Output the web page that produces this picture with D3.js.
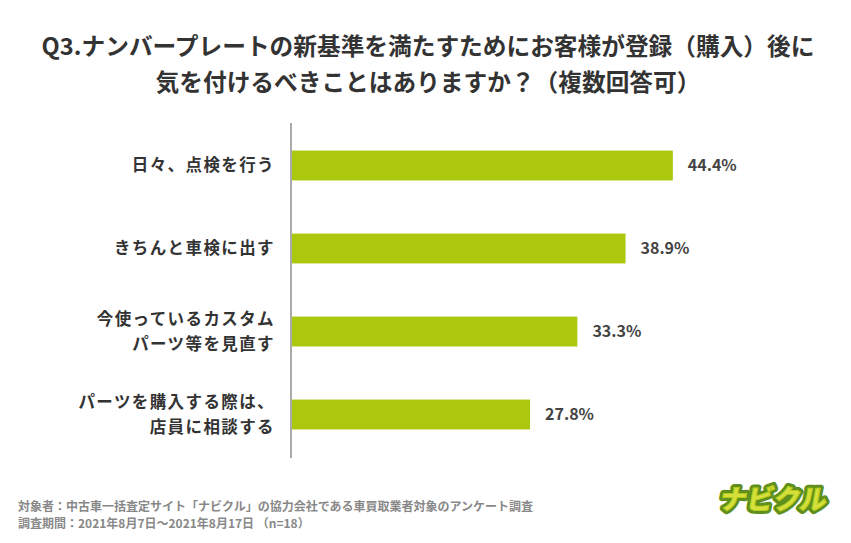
<!DOCTYPE html>
<html><head><meta charset="utf-8">
<script src="https://cdn.jsdelivr.net/npm/d3@7"></script>
<style>
body{margin:0;background:#fff;}
svg{display:block;font-family:"Noto Sans CJK JP","Noto Sans",sans-serif;}
</style></head>
<body><svg id="c" width="851" height="543"></svg>
<script>
const titleLines = ["Q3.ナンバープレートの新基準を満たすためにお客様が登録（購入）後に","気を付けるべきことはありますか？（複数回答可）"];
const categories = ["日々、点検を行う","きちんと車検に出す","今使っているカスタム\nパーツ等を見直す","パーツを購入する際は、\n店員に相談する"];
const values = [44.4, 38.9, 33.3, 27.8];
const footnotes = ["対象者：中古車一括査定サイト「ナビクル」の協力会社である車買取業者対象のアンケート調査","調査期間：2021年8月7日〜2021年8月17日 （n=18）"];
const logoText = "ナビクル";

const svg = d3.select("#c");
const x0 = 291;
const x = d3.scaleLinear().domain([0, 50]).range([x0, x0 + 430]);
const y = d3.scaleBand().domain(categories).range([124, 456]).paddingInner(0.64).paddingOuter(0.32);

svg.append("g").selectAll("text").data(titleLines).join("text")
  .attr("x", 428).attr("y", (d,i)=>55+i*36).attr("text-anchor","middle")
  .attr("font-size",23.7).attr("font-weight",700).attr("fill","#333").text(d=>d);

svg.append("g").selectAll("rect").data(values).join("rect")
  .attr("x", x(0)).attr("y",(d,i)=>y(categories[i]))
  .attr("width", d=>x(d)-x(0)).attr("height", y.bandwidth())
  .attr("fill","#abc70e");

svg.append("line").attr("x1",x0).attr("x2",x0).attr("y1",123).attr("y2",458)
  .attr("stroke","#aaa").attr("stroke-width",2);

svg.append("g").selectAll("text").data(values).join("text")
  .attr("x", d=>x(d)+15).attr("y",(d,i)=>y(categories[i])+y.bandwidth()/2)
  .attr("dy","0.36em").attr("font-size",16).attr("font-weight",700).attr("fill","#444")
  .text(d=>d.toFixed(1)+"%");

const lab = svg.append("g").selectAll("text").data(categories).join("text")
  .attr("text-anchor","end").attr("font-size",16.5).attr("font-weight",700).attr("fill","#333")
  .attr("letter-spacing","1.4px");
lab.each(function(d){
  const lines = d.split("\n");
  const cy = y(d)+y.bandwidth()/2;
  const t = d3.select(this);
  lines.forEach((l,i)=>{
    t.append("tspan").attr("x",275).attr("y", cy + (i-(lines.length-1)/2)*25).attr("dy","0.36em").text(l);
  });
});

svg.append("g").selectAll("text").data(footnotes).join("text")
  .attr("x",18).attr("y",(d,i)=>511+i*17).attr("font-size",12).attr("font-weight",700).attr("fill","#888").text(d=>d);

const logo = svg.append("g").attr("transform","translate(772,509) skewX(-10)");
logo.append("text").attr("text-anchor","middle").attr("font-size",27).attr("font-weight",900)
  .attr("fill","none").attr("stroke","#5f8f1c").attr("stroke-width",7).attr("stroke-linejoin","round").text(logoText);
logo.append("text").attr("text-anchor","middle").attr("font-size",27).attr("font-weight",900)
  .attr("fill","#d6e03c").attr("stroke","#b5cc1a").attr("stroke-width",1).text(logoText);
</script></body></html>
